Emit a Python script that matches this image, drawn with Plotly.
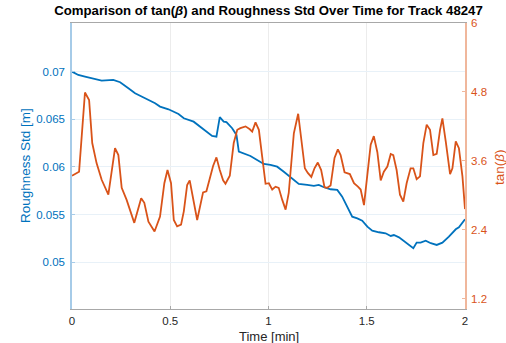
import plotly.graph_objects as go

# Roughness Std (left axis)
time_rough = [0.000, 0.032, 0.066, 0.100, 0.151, 0.210, 0.245, 0.287, 0.321, 0.372,
              0.423, 0.448, 0.491, 0.542, 0.569, 0.619, 0.670, 0.713, 0.735, 0.752,
              0.772, 0.786, 0.815, 0.837, 0.849, 0.866, 0.908, 0.942, 0.976, 1.010,
              1.044, 1.078, 1.112, 1.154, 1.197, 1.231, 1.256, 1.282, 1.316, 1.350,
              1.375, 1.401, 1.426, 1.452, 1.477, 1.503, 1.528, 1.562, 1.596, 1.622,
              1.638, 1.664, 1.698, 1.720, 1.737, 1.754, 1.774, 1.800, 1.826, 1.856,
              1.885, 1.918, 1.953, 1.969, 2.000]
rough_std = [0.07000, 0.06965, 0.06948, 0.06930, 0.06906, 0.06913, 0.06889, 0.06826, 0.06773, 0.06721,
             0.06668, 0.06633, 0.06605, 0.06556, 0.06511, 0.06475, 0.06388, 0.06325, 0.06318, 0.06522,
             0.06475, 0.06470, 0.06406, 0.06336, 0.06161, 0.06150, 0.06115, 0.06073, 0.06031, 0.06021,
             0.06003, 0.05950, 0.05892, 0.05822, 0.05811, 0.05801, 0.05811, 0.05787, 0.05766, 0.05759,
             0.05688, 0.05583, 0.05478, 0.05461, 0.05437, 0.05374, 0.05332, 0.05315, 0.05304, 0.05276,
             0.05286, 0.05262, 0.05206, 0.05171, 0.05147, 0.05206, 0.05206, 0.05227, 0.05200, 0.05182,
             0.05206, 0.05269, 0.05346, 0.05367, 0.05451]

# tan(beta) (right axis)
time_tan = [0.000, 0.036, 0.066, 0.087, 0.103, 0.125, 0.151, 0.185, 0.219, 0.236,
            0.253, 0.278, 0.317, 0.352, 0.368, 0.389, 0.420, 0.448, 0.470, 0.486,
            0.504, 0.518, 0.535, 0.555, 0.569, 0.586, 0.599, 0.616, 0.637, 0.667,
            0.684, 0.718, 0.735, 0.752, 0.769, 0.781, 0.803, 0.823, 0.841, 0.857,
            0.883, 0.905, 0.917, 0.934, 0.951, 0.968, 0.985, 1.002, 1.019, 1.036,
            1.052, 1.070, 1.087, 1.103, 1.129, 1.151, 1.168, 1.185, 1.200, 1.218,
            1.234, 1.251, 1.268, 1.285, 1.299, 1.316, 1.336, 1.353, 1.367, 1.387,
            1.414, 1.435, 1.455, 1.469, 1.486, 1.503, 1.520, 1.536, 1.554, 1.571,
            1.587, 1.605, 1.622, 1.635, 1.652, 1.669, 1.686, 1.703, 1.723, 1.737,
            1.754, 1.771, 1.788, 1.805, 1.822, 1.839, 1.856, 1.873, 1.885, 1.902,
            1.924, 1.936, 1.953, 1.969, 1.987, 2.000]
tan_beta = [3.34, 3.41, 4.79, 4.66, 3.91, 3.56, 3.27, 3.01, 3.82, 3.70,
            3.13, 2.92, 2.52, 2.95, 2.87, 2.54, 2.37, 2.63, 3.21, 3.44,
            3.21, 2.57, 2.46, 2.49, 2.72, 3.18, 3.26, 2.92, 2.57, 3.05,
            3.07, 3.51, 3.66, 3.44, 3.26, 3.20, 3.34, 3.91, 4.14, 4.17,
            4.20, 4.15, 4.11, 4.27, 4.14, 3.67, 3.20, 3.21, 3.10, 3.15,
            3.13, 2.92, 2.75, 3.04, 4.08, 4.42, 3.97, 3.47, 3.39, 3.32,
            3.47, 3.57, 3.44, 3.14, 3.13, 3.17, 3.65, 3.80, 3.70, 3.40,
            3.37, 3.21, 3.15, 3.10, 2.83, 3.39, 3.88, 4.03, 3.75, 3.26,
            3.41, 3.50, 3.72, 3.70, 3.44, 3.01, 2.89, 3.21, 3.47, 3.47,
            3.28, 3.33, 3.91, 4.23, 4.14, 3.70, 3.72, 4.14, 4.34, 3.94,
            3.37, 3.47, 3.94, 3.82, 3.33, 2.76]

x_ticks = [0, 0.5, 1, 1.5, 2]
x_ticklabels = ["0", "0.5", "1", "1.5", "2"]
left_ticks = [0.05, 0.055, 0.06, 0.065, 0.07]
left_ticklabels = ["0.05", "0.055", "0.06", "0.065", "0.07"]
right_ticks = [1.2, 2.4, 3.6, 4.8, 6]
right_ticklabels = ["1.2", "2.4", "3.6", "4.8", "6"]

BLUE = "#0072BD"
ORANGE = "#D95319"
FONT = "Liberation Sans, Arial, Helvetica, sans-serif"

W, H = 506, 343
L, R, T, B = 72, 41, 23, 34
PW, PH = W - L - R, H - T - B

fig = go.Figure()
fig.add_trace(go.Scatter(x=time_rough, y=rough_std, mode="lines",
                         line=dict(color=BLUE, width=1.8), yaxis="y", showlegend=False))
fig.add_trace(go.Scatter(x=time_tan, y=tan_beta, mode="lines",
                         line=dict(color=ORANGE, width=1.8), yaxis="y2", showlegend=False))

fig.update_layout(
    width=W, height=H,
    margin=dict(l=L, r=R, t=T, b=B, autoexpand=False),
    paper_bgcolor="white", plot_bgcolor="white",
    font=dict(family=FONT, size=11, color="#262626"),
    title=dict(text="<b>Comparison of tan(<i>β</i>) and Roughness Std Over Time for Track 48247</b>",
               x=(L + PW / 2) / W, xanchor="center", y=1 - 10 / H, yanchor="middle",
               font=dict(family=FONT, size=13.2, color="black")),
    xaxis=dict(range=[0, 2], tickvals=x_ticks, ticktext=x_ticklabels,
               showgrid=True, gridcolor="#ececec", gridwidth=1,
               showline=True, linecolor="#a8a8a8", linewidth=1, mirror=True,
               ticks="inside", ticklen=3, tickcolor="#a8a8a8",
               zeroline=False, automargin=False, ticklabelstandoff=1,
               tickfont=dict(size=11.5, color="#262626")),
    yaxis=dict(range=[0.0451, 0.0751], tickvals=left_ticks, ticktext=left_ticklabels,
               showgrid=True, gridcolor="#e8f1f8", gridwidth=1,
               showline=True, linecolor="#a6cbe8", linewidth=1.5,
               ticks="inside", ticklen=3, tickcolor="#a6cbe8",
               zeroline=False, automargin=False, ticklabelstandoff=3,
               tickfont=dict(size=11.5, color=BLUE)),
    yaxis2=dict(range=[1.02, 6], tickvals=right_ticks, ticktext=right_ticklabels,
                overlaying="y", side="right", showgrid=False,
                showline=True, linecolor="#f0b79c", linewidth=1.5,
                ticks="inside", ticklen=3, tickcolor="#f0b79c",
                zeroline=False, automargin=False, ticklabelstandoff=2,
                tickfont=dict(size=11.5, color=ORANGE)),
    annotations=[
        dict(text="Time [min]", xref="paper", yref="paper",
             x=0.5, y=(309 - 336.5) / PH, xanchor="center", yanchor="middle",
             showarrow=False, font=dict(size=13, color="#262626")),
        dict(text="Roughness Std [m]", xref="paper", yref="paper",
             x=(25 - L) / PW, y=0.5, xanchor="center", yanchor="middle", textangle=-90,
             showarrow=False, font=dict(size=13.5, color=BLUE)),
        dict(text="tan(<i>β</i>)", xref="paper", yref="paper",
             x=(499 - L) / PW, y=(309 - 168) / PH, xanchor="center", yanchor="middle", textangle=-90,
             showarrow=False, font=dict(size=13.5, color=ORANGE)),
    ],
)

fig.write_html("out.html")
